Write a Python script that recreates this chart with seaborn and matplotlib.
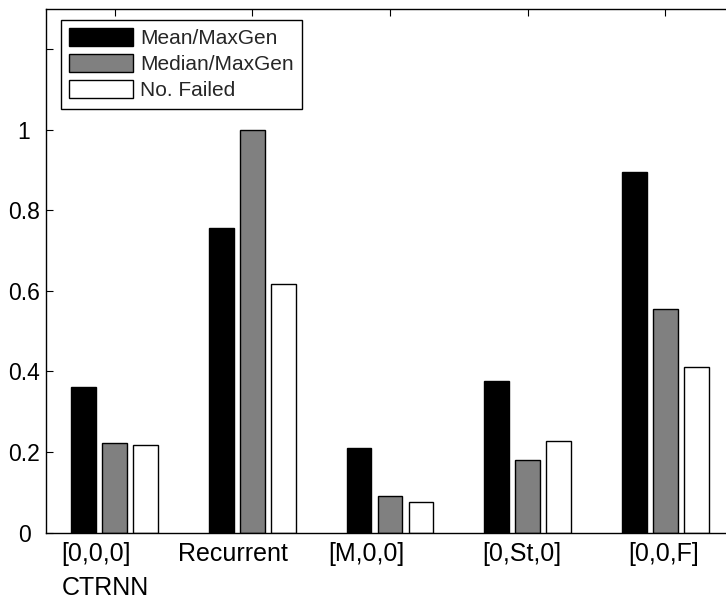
import matplotlib
matplotlib.use("Agg")
import matplotlib.pyplot as plt
import matplotlib.patches as mpatches
import matplotlib.transforms as mtransforms
import seaborn as sns
import pandas as pd

categories = ["[0,0,0]\nCTRNN", "Recurrent", "[M,0,0]", "[0,St,0]", "[0,0,F]"]
series_names = ["Mean/MaxGen", "Median/MaxGen", "No. Failed"]
mean_maxgen = [0.362, 0.756, 0.211, 0.376, 0.894]
median_maxgen = [0.222, 1.000, 0.091, 0.181, 0.556]
no_failed = [0.217, 0.617, 0.076, 0.226, 0.412]
ytick_values = [0, 0.2, 0.4, 0.6, 0.8, 1.0, 1.2]
ytick_labels = ["0", "0.2", "0.4", "0.6", "0.8", "1", ""]

# horizontal nudge of each category label (points), style only
label_shift_pt = [-7, -14, -17, -4, -1]

colors = ["#000000", "#808080", "#ffffff"]

sns.set_style("ticks")
plt.rcParams["font.family"] = ["Liberation Sans", "DejaVu Sans"]
plt.rcParams["font.size"] = 15

rows = []
for name, vals in zip(series_names, [mean_maxgen, median_maxgen, no_failed]):
    for c, v in zip(categories, vals):
        rows.append({"category": c, "series": name, "value": v})
df = pd.DataFrame(rows)

W, H = 726, 599
fig = plt.figure(figsize=(W / 100, H / 100), dpi=100)
ax = fig.add_axes([46 / W, 1 - 532.5 / H, 688 / W, (532.5 - 9) / H])

sns.barplot(data=df, x="category", y="value", hue="series", order=categories,
            hue_order=series_names, palette=colors, width=0.675, gap=0.2,
            edgecolor="black", linewidth=1.0, saturation=1, legend=False, ax=ax)

ax.set_xlim(-0.5, 4.5)
ax.set_ylim(0, 1.3)
ax.set_yticks(ytick_values)
ax.set_yticklabels(ytick_labels)
ax.set_xlabel("")
ax.set_ylabel("")

for s in ax.spines.values():
    s.set_visible(True)
    s.set_linewidth(1.0)
    s.set_color("black")

ax.tick_params(direction="in", length=5, width=0.8, top=True, right=True,
               colors="black")
ax.tick_params(axis="y", pad=15.8, labelsize=16.5)
for lbl in ax.get_yticklabels():
    lbl.set_horizontalalignment("center")
ax.tick_params(axis="x", pad=7, labelsize=18)
for lbl, dx in zip(ax.get_xticklabels(), label_shift_pt):
    lbl.set_multialignment("left")
    lbl.set_linespacing(1.5)
    lbl.set_transform(lbl.get_transform() +
                      mtransforms.ScaledTranslation(dx / 72, 0, fig.dpi_scale_trans))

handles = [mpatches.Patch(facecolor=c, edgecolor="black", linewidth=1.0) for c in colors]
leg = ax.legend(handles, series_names, loc="upper left", bbox_to_anchor=(15 / 688, 1 - 11 / 523.5),
                borderaxespad=0, frameon=True, fancybox=False, framealpha=1,
                edgecolor="black", handlelength=3.05, handleheight=0.95,
                handletextpad=0.35, labelspacing=0.28, borderpad=0.4, fontsize=15)
leg.get_frame().set_linewidth(1.0)

fig.savefig("out.png", dpi=100)
